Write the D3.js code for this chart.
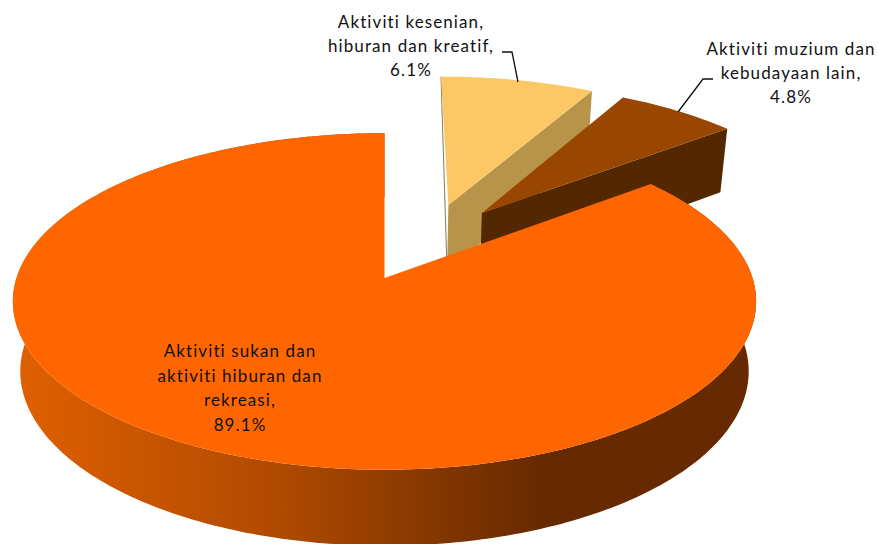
<!DOCTYPE html>
<html>
<head>
<meta charset="utf-8">
<script src="https://cdn.jsdelivr.net/npm/d3@7"></script>
<style>
  html, body { margin: 0; padding: 0; background: #fff; }
  text { font-family: Lato, sans-serif; font-size: 17px; letter-spacing: 1.1px; fill: #111; }
</style>
</head>
<body>
<div id="chart"></div>
<script>
const categories = ["Aktiviti kesenian, hiburan dan kreatif", "Aktiviti muzium dan kebudayaan lain", "Aktiviti sukan dan aktiviti hiburan dan rekreasi"];
const values = [6.1, 4.8, 89.1];
const labelLines = [
    ["Aktiviti kesenian,", "hiburan dan kreatif,", "6.1%"],
    ["Aktiviti muzium dan", "kebudayaan lain,", "4.8%"],
    ["Aktiviti sukan dan", "aktiviti hiburan dan", "rekreasi,", "89.1%"]
];
const topColors = ["#fcc865", "#994700", "#ff6600"];
const sideColors = ["#b8934a", "#532800", "url(#sideShade)"];

// how far each slice is pulled out of the pie, in pie radii
const explode = [[0.185, -0.471], [0.28, -0.417], [0, 0]];
const labelPos = [[411, 28, 24], [791, 55, 24], [240, 357, 24.6]];
const leaders = [
    [[502, 52], [512, 52], [518, 82]],
    [[713, 79], [703, 79], [678, 112]]
];

const width = 878, height = 544;

// 3d look of the pie
const originX = 384.5, originY = 278;
const radiusX = 368, radiusY = 165;
const persp = 0.1395;

function project(px, py, bottom) {
    const s = 1 / (1 - persp * py);
    if (bottom) {
        return [originX + radiusX * px * s * 0.98, originY + 69 + 171 * py * s];
    }
    return [originX + radiusX * px * s, originY + radiusY * py * s];
}

const pie = d3.pie().sort(null).startAngle(0).endAngle(2 * Math.PI);
const arcs = pie(values);

// the tilt opens up the slices at the back of the pie
const tiltAngle = d3.scaleLinear()
    .domain([0, arcs[1].endAngle, 2 * Math.PI])
    .range([0, 51.8 * Math.PI / 180, 2 * Math.PI]);

function rimPoint(angle, off, bottom) {
    const a = tiltAngle(angle);
    return project(off[0] + Math.sin(a), off[1] - Math.cos(a), bottom);
}

const svg = d3.select("#chart")
    .append("svg")
    .attr("width", width)
    .attr("height", height);

const shade = svg.append("defs").append("linearGradient")
    .attr("id", "sideShade")
    .attr("gradientUnits", "userSpaceOnUse")
    .attr("x1", 15).attr("x2", 540)
    .attr("y1", 0).attr("y2", 0);
shade.append("stop").attr("offset", "0%").attr("stop-color", "#e06000");
shade.append("stop").attr("offset", "50%").attr("stop-color", "#b04a00");
shade.append("stop").attr("offset", "100%").attr("stop-color", "#672a00");

const line = d3.line();

function rim(d, off, bottom) {
    const n = Math.ceil((d.endAngle - d.startAngle) * 60);
    return d3.range(n + 1).map(i =>
        rimPoint(d.startAngle + (d.endAngle - d.startAngle) * i / n, off, bottom));
}

arcs.forEach((d, i) => {
    const off = explode[i];
    const g = svg.append("g");
    const centerTop = project(off[0], off[1], false);
    const centerBottom = project(off[0], off[1], true);
    const top = rim(d, off, false);
    const bottom = rim(d, off, true);

    if (i === 2) {
        // outer wall of the big slice, one quad per rim step
        const wall = top.slice(1).map((p, k) =>
            line([top[k], p, bottom[k + 1], bottom[k]]) + "Z").join("");
        g.append("path")
            .attr("d", wall)
            .attr("fill", sideColors[i]);
    } else {
        // cut face of the pulled out slices
        const lastT = top[top.length - 1], lastB = bottom[bottom.length - 1];
        if (i === 0) {
            g.append("path")
                .attr("d", line([top[0], centerBottom]))
                .attr("stroke", "#8a7a55")
                .attr("stroke-width", 1);
        }
        g.append("path")
            .attr("d", line([centerTop, lastT, lastB, centerBottom]) + "Z")
            .attr("fill", sideColors[i]);
    }
    g.append("path")
        .attr("d", line([centerTop].concat(top)) + "Z")
        .attr("fill", topColors[i]);
});

svg.selectAll(".leader")
    .data(leaders)
    .enter().append("path")
    .attr("class", "leader")
    .attr("d", d => line(d))
    .attr("fill", "none")
    .attr("stroke", "#111")
    .attr("stroke-width", 1.3);

labelLines.forEach((lines, i) => {
    const t = svg.append("text").attr("text-anchor", "middle");
    lines.forEach((s, j) => {
        t.append("tspan")
            .attr("x", labelPos[i][0])
            .attr("y", labelPos[i][1] + j * labelPos[i][2])
            .text(s);
    });
});
</script>
</body>
</html>
